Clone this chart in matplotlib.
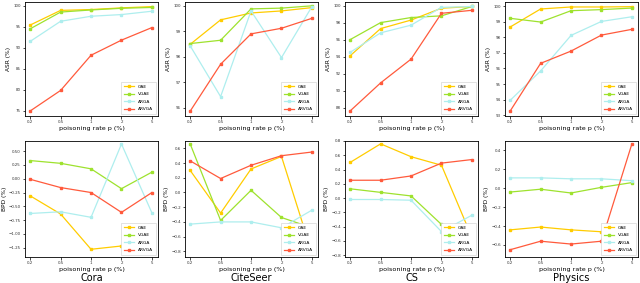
import matplotlib
matplotlib.use("Agg")
import matplotlib.pyplot as plt

rates = ["0.2", "0.5", "1", "2", "5"]
datasets = ["Cora", "CiteSeer", "CS", "Physics"]
models = ["GAE", "VGAE", "ARGA", "ARVGA"]
colors = ["#ffcc00", "#9ee22e", "#aeeeee", "#ff5a3c"]

# attack success rate (%)
asr_cora = [[95.4, 98.9, 99.1, 99.5, 99.8],
            [94.5, 98.5, 99.0, 99.4, 99.6],
            [91.5, 96.3, 97.5, 97.9, 98.7],
            [74.9, 79.8, 88.2, 91.8, 94.8]]
asr_citeseer = [[98.48, 99.44, 99.71, 99.79, 99.92],
                [98.51, 98.64, 99.87, 99.90, 99.99],
                [98.42, 96.43, 99.79, 97.96, 99.96],
                [95.86, 97.70, 98.89, 99.11, 99.50]]
asr_cs = [[94.1, 97.3, 98.3, 99.7, 99.9],
          [96.0, 98.0, 98.6, 98.8, 99.9],
          [94.5, 96.8, 97.7, 99.8, 99.9],
          [87.6, 90.9, 93.7, 99.1, 99.45]]
asr_physics = [[98.67, 99.83, 99.96, 99.96, 99.98],
               [99.23, 98.99, 99.72, 99.79, 99.89],
               [93.95, 95.84, 98.13, 99.03, 99.33],
               [93.26, 96.33, 97.12, 98.15, 98.52]]

# benign performance drop (%)
bpd_cora = [[-0.31, -0.64, -1.28, -1.22, -0.96],
            [0.33, 0.28, 0.18, -0.18, 0.12],
            [-0.63, -0.60, -0.70, 0.63, -0.62],
            [-0.01, -0.16, -0.25, -0.61, -0.25]]
bpd_citeseer = [[0.30, -0.28, 0.32, 0.49, -0.82],
                [0.66, -0.38, 0.03, -0.34, -0.48],
                [-0.43, -0.40, -0.40, -0.48, -0.24],
                [0.43, 0.19, 0.37, 0.50, 0.55]]
bpd_cs = [[0.50, 0.76, 0.58, 0.46, -0.55],
          [0.13, 0.08, 0.03, -0.37, -0.45],
          [-0.02, -0.02, -0.03, -0.47, -0.24],
          [0.25, 0.25, 0.31, 0.49, 0.54]]
bpd_physics = [[-0.44, -0.41, -0.44, -0.46, -0.44],
               [-0.04, -0.01, -0.05, 0.01, 0.06],
               [0.11, 0.11, 0.10, 0.10, 0.08],
               [-0.65, -0.56, -0.59, -0.56, 0.47]]

asr_all = [asr_cora, asr_citeseer, asr_cs, asr_physics]
bpd_all = [bpd_cora, bpd_citeseer, bpd_cs, bpd_physics]

asr_lims = [(73.7, 100.9), (95.67, 100.14), (87.0, 100.43), (92.94, 100.28)]
asr_ticks = [[75, 80, 85, 90, 95, 100], [96, 97, 98, 99, 100],
             [88, 90, 92, 94, 96, 98, 100], [93, 94, 95, 96, 97, 98, 99, 100]]
bpd_lims = [(-1.42, 0.685), (-0.877, 0.70), (-0.826, 0.80), (-0.727, 0.50)]
bpd_ticks = [[-1.25, -1.0, -0.75, -0.5, -0.25, 0.0, 0.25, 0.5],
             [-0.8, -0.6, -0.4, -0.2, 0.0, 0.2, 0.4, 0.6],
             [-0.8, -0.6, -0.4, -0.2, 0.0, 0.2, 0.4, 0.6, 0.8],
             [-0.6, -0.4, -0.2, 0.0, 0.2, 0.4]]

fig = plt.figure(figsize=(6.4, 2.83), dpi=100)
x = list(range(len(rates)))

def draw(ax, data, lims, ticks, ylabel, fmt):
    for i in range(len(models)):
        ax.plot(x, data[i], color=colors[i], marker="s", markersize=1.5,
                linewidth=0.9, label=models[i])
    ax.set_xlim(-0.17, 4.2)
    ax.set_ylim(*lims)
    ax.set_xticks(x)
    ax.set_xticklabels(rates)
    ax.set_yticks(ticks)
    ax.set_yticklabels([fmt.format(t).replace("-", "\u2212") for t in ticks])
    ax.tick_params(labelsize=2.9, length=1.8, width=0.5, pad=1.2,
                   labelcolor="#333333")
    for s in ax.spines.values():
        s.set_linewidth(0.6)
    ax.set_xlabel("poisoning rate p (%)", fontsize=4.6, labelpad=1.5)
    ax.set_ylabel(ylabel, fontsize=4.2, labelpad=1.5)
    leg = ax.legend(loc="lower right", fontsize=3.2, framealpha=1,
                    edgecolor="#cccccc", fancybox=False, handlelength=2.4,
                    borderpad=0.6, labelspacing=0.75)
    leg.get_frame().set_linewidth(0.4)

asr_fmt = ["{:.0f}", "{:.0f}", "{:.0f}", "{:.0f}"]
bpd_fmt = ["{:.2f}", "{:.1f}", "{:.1f}", "{:.1f}"]

for j in range(4):
    left = (25 + 160 * j) / 640
    w = 133 / 640
    ax1 = fig.add_axes([left, 1 - 116 / 283, w, 114 / 283])
    draw(ax1, asr_all[j], asr_lims[j], asr_ticks[j], "ASR (%)", asr_fmt[j])
    ax2 = fig.add_axes([left, 1 - 257 / 283, w, 116 / 283])
    draw(ax2, bpd_all[j], bpd_lims[j], bpd_ticks[j], "BPD (%)", bpd_fmt[j])
    fig.text(left + w / 2, 1 - 278 / 283, datasets[j], fontsize=7,
             ha="center", va="center")

plt.savefig("out.png", dpi=100)
